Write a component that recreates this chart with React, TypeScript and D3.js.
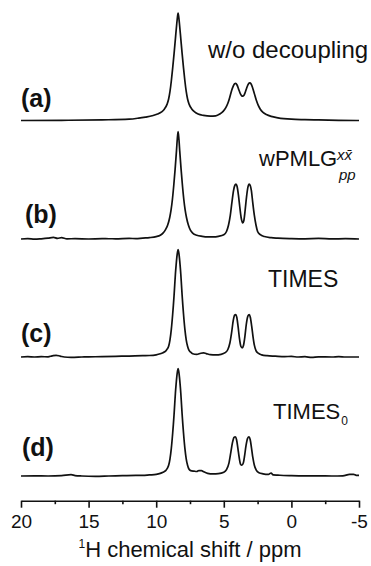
import * as d3 from 'd3';
import { useEffect, useRef } from 'react';

// spectra: [ppm, intensity], main peak = 100
const specA = [
  [20, 0], [17, 0.2], [14, 0.6], [12, 1.2], [11.3, 2.2], [10.8, 3.2], [10.3, 4.4], [9.9, 6], [9.6, 8],
  [9.4, 10.5], [9.2, 15], [9.08, 20], [8.98, 27], [8.88, 37], [8.78, 49], [8.68, 62], [8.58, 76],
  [8.48, 90], [8.43, 96], [8.38, 100], [8.33, 96], [8.28, 90], [8.18, 76], [8.08, 62], [7.98, 49],
  [7.88, 37], [7.78, 27], [7.68, 20], [7.56, 15], [7.36, 10.5], [7.16, 8], [6.9, 6], [6.5, 4.7],
  [6.0, 4.0], [5.6, 4.3], [5.3, 6], [5.05, 8.5], [4.85, 12], [4.7, 16], [4.55, 22], [4.42, 28],
  [4.3, 32], [4.2, 34.2], [4.12, 34.5], [4.02, 33], [3.9, 29], [3.78, 25], [3.68, 23], [3.6, 22.6],
  [3.52, 23.2], [3.42, 26], [3.3, 30.5], [3.18, 34], [3.08, 35], [2.98, 34], [2.86, 30], [2.74, 25],
  [2.6, 19], [2.45, 14], [2.3, 10.5], [2.1, 7.5], [1.85, 5.5], [1.5, 3.8], [1.0, 2.5], [0, 1.2],
  [-1, 0.8], [-2, 0.5], [-3.5, 0.2], [-5, 0],
];

const specB = [
  [20, 0], [19.5, 0.3], [19, -0.2], [18.5, 0.2], [18.0, 0.8], [17.6, 1.5], [17.3, 0.6], [17.0, 1.2],
  [16.6, 0.2], [16, 0.3], [15, 0], [14, 0.3], [13, 0.2], [12, 0.6], [11.5, 0.3], [11, 0.9],
  [10.5, 1.3], [10, 2.2], [9.7, 3.5], [9.5, 5.5], [9.3, 9], [9.15, 13], [9.0, 20], [8.9, 27],
  [8.8, 37], [8.7, 50], [8.6, 65], [8.5, 82], [8.44, 93], [8.38, 100], [8.32, 93], [8.26, 82],
  [8.16, 65], [8.06, 50], [7.96, 37], [7.86, 27], [7.76, 20], [7.62, 13], [7.46, 8], [7.3, 5.5],
  [7.0, 3.5], [6.6, 2.5], [6.2, 2], [5.8, 2], [5.4, 2.5], [5.0, 4], [4.8, 7], [4.65, 13], [4.52, 22],
  [4.4, 34], [4.28, 45], [4.18, 50], [4.1, 51], [4.02, 49], [3.92, 41], [3.82, 30], [3.72, 20],
  [3.6, 15], [3.52, 17], [3.42, 27], [3.32, 39], [3.22, 48], [3.12, 51], [3.05, 50], [2.96, 45],
  [2.86, 34], [2.74, 22], [2.62, 13], [2.5, 7], [2.3, 4], [2.0, 2.3], [1.5, 1.2], [1, 0.8], [0, 0.4],
  [-1, 0.2], [-2, 0.5], [-3, 0.1], [-4, 0.3], [-5, 0],
];

const specC = [
  [20, 0], [19.5, 0.3], [19, 0], [18.5, 0.3], [18, 0.2], [17.7, 1.0], [17.4, 1.6], [17.1, 0.8],
  [16.8, 0], [16.3, -0.3], [15.5, 0], [15, 0.2], [14, 0.3], [13, 0.6], [12, 0.9], [11, 1.3],
  [10.5, 1.4], [10, 2.0], [9.7, 3], [9.5, 4], [9.3, 5.5], [9.18, 7.5], [9.08, 10], [8.98, 16],
  [8.88, 26], [8.78, 40], [8.73, 48], [8.68, 57], [8.63, 67], [8.58, 77], [8.53, 85], [8.48, 92],
  [8.43, 97], [8.38, 100], [8.33, 97], [8.28, 92], [8.23, 85], [8.18, 77], [8.13, 67], [8.08, 57],
  [8.03, 48], [7.98, 40], [7.88, 26], [7.78, 16], [7.68, 10], [7.58, 6.5], [7.45, 4.5], [7.3, 3],
  [7.0, 2.4], [6.7, 3.5], [6.5, 3.8], [6.3, 3.2], [6.0, 2.2], [5.6, 2], [5.2, 2.5], [4.9, 4],
  [4.7, 7], [4.55, 13], [4.42, 23], [4.3, 34], [4.2, 39], [4.12, 39.5], [4.04, 37], [3.94, 28],
  [3.84, 17], [3.74, 10], [3.64, 8.5], [3.54, 11], [3.44, 19], [3.34, 30], [3.22, 38], [3.12, 39.5],
  [3.04, 37], [2.94, 29], [2.84, 19], [2.74, 11], [2.62, 6], [2.45, 3.5], [2.2, 2], [1.8, 1.2],
  [1.2, 0.8], [0.5, 0.4], [0, 0.5], [-0.5, 0], [-1, 0.3], [-1.5, -0.4], [-2, 0.2], [-3, 0],
  [-3.5, 0.4], [-4, 0], [-5, 0],
];

const specD = [
  [20, 0], [19, 0.2], [18, 0], [17, 0.3], [16.3, 1.2], [16.0, 0.4], [15.5, 0], [14.5, -0.3],
  [13.5, 0], [12.5, 0.3], [11.5, 0.6], [11, 0.5], [10.5, 1.0], [10, 1.5], [9.7, 2.4], [9.5, 3.5],
  [9.3, 5], [9.18, 7], [9.08, 10], [8.98, 16], [8.88, 26], [8.78, 40], [8.73, 48], [8.68, 57],
  [8.63, 67], [8.58, 77], [8.53, 85], [8.48, 92], [8.43, 97], [8.38, 100], [8.33, 97], [8.28, 92],
  [8.23, 85], [8.18, 77], [8.13, 67], [8.08, 57], [8.03, 48], [7.98, 40], [7.88, 26], [7.78, 16],
  [7.68, 10], [7.58, 6.5], [7.45, 5], [7.2, 4.5], [7.0, 4.2], [6.85, 5], [6.65, 5], [6.5, 4],
  [6.2, 2.5], [5.8, 2], [5.4, 2.2], [5.0, 3.5], [4.8, 6], [4.62, 12], [4.48, 22], [4.36, 31],
  [4.24, 36], [4.15, 36.5], [4.06, 34], [3.96, 26], [3.86, 17], [3.76, 11], [3.66, 10],
  [3.56, 12], [3.46, 19], [3.36, 28], [3.24, 35], [3.14, 36.5], [3.05, 34], [2.95, 26], [2.85, 17],
  [2.74, 10], [2.6, 5.5], [2.4, 3], [2.1, 2], [1.7, 1.5], [1.5, 2.8], [1.35, 1], [1.0, 0.8],
  [0, 0.3], [-1, 0.1], [-2, 0.2], [-3, 0], [-3.8, 0.2], [-4.3, 1.5], [-4.6, 1.6], [-4.8, 0.6],
  [-5, 0.6],
];

const spectra = [specA, specB, specC, specD];
const panelLabels = ['(a)', '(b)', '(c)', '(d)'];
const majorTicks = [20, 15, 10, 5, 0, -5];
const minorTicks = [17.5, 12.5, 7.5, 2.5, -2.5];

const font = "'Liberation Sans', Arial, Helvetica, sans-serif";
const baselines = [120.5, 239, 357, 476];
const peakHeight = 107.5;
const labelX = [21, 25, 21, 22];
const labelLift = [13.5, 16, 15, 20];

export default function App() {
  const svgRef = useRef(null);

  useEffect(() => {
    const svg = d3.select(svgRef.current);
    svg.selectAll('*').remove();

    const x = d3.scaleLinear().domain([20, -5]).range([21, 359]);

    // spectra
    spectra.forEach((spec, i) => {
      const y = d3
        .scaleLinear()
        .domain([0, 100])
        .range([baselines[i], baselines[i] - peakHeight]);

      const line = d3
        .line()
        .x((d) => x(d[0]))
        .y((d) => y(d[1]))
        .curve(d3.curveMonotoneX);

      svg
        .append('path')
        .datum(spec)
        .attr('d', line as any)
        .style('fill', 'none')
        .style('stroke', '#111')
        .style('stroke-width', 1.7)
        .style('stroke-linejoin', 'round');

      svg
        .append('text')
        .attr('x', labelX[i])
        .attr('y', baselines[i] - labelLift[i])
        .style('font-family', font)
        .style('font-weight', 'bold')
        .style('font-size', '25px')
        .style('fill', '#111')
        .text(panelLabels[i]);
    });

    // method labels
    svg
      .append('text')
      .attr('x', 208)
      .attr('y', 58)
      .style('font-family', font)
      .style('font-size', '24px')
      .style('fill', '#111')
      .text('w/o decoupling');

    const wp = svg
      .append('g')
      .style('font-family', font)
      .style('fill', '#111');
    wp.append('text')
      .attr('x', 259)
      .attr('y', 166)
      .style('font-size', '22px')
      .text('wPMLG');
    const sup = wp
      .append('text')
      .attr('x', 337)
      .attr('y', 160)
      .style('font-size', '15px')
      .style('font-style', 'italic');
    sup.append('tspan').text('x');
    sup.append('tspan').text('x\u0304');
    wp.append('text')
      .attr('x', 339)
      .attr('y', 180)
      .style('font-size', '15px')
      .style('font-style', 'italic')
      .text('pp');

    svg
      .append('text')
      .attr('x', 268)
      .attr('y', 287)
      .style('font-family', font)
      .style('font-size', '23px')
      .style('fill', '#111')
      .text('TIMES');

    const t0 = svg
      .append('text')
      .attr('x', 273)
      .attr('y', 419)
      .style('font-family', font)
      .style('font-size', '22px')
      .style('fill', '#111');
    t0.append('tspan').text('TIMES');
    t0.append('tspan')
      .attr('dy', 6)
      .attr('dx', 1)
      .style('font-size', '12px')
      .text('0');

    // x axis
    const axisY = 500.7;
    const gMajor = svg
      .append('g')
      .attr('transform', 'translate(0,' + axisY + ')')
      .call(
        d3
          .axisBottom(x)
          .tickValues(majorTicks)
          .tickSize(7)
          .tickSizeOuter(0)
          .tickPadding(7)
          .tickFormat((d) => String(d))
      );
    gMajor.select('.domain').style('stroke-width', 1.6).style('stroke', '#111');
    gMajor.selectAll('line').style('stroke-width', 1.6).style('stroke', '#111');
    gMajor
      .selectAll('text')
      .style('font-family', font)
      .style('font-size', '19px')
      .style('fill', '#111');

    const gMinor = svg
      .append('g')
      .attr('transform', 'translate(0,' + axisY + ')')
      .call(
        d3
          .axisBottom(x)
          .tickValues(minorTicks)
          .tickSize(3.5)
          .tickSizeOuter(0)
          .tickFormat(() => '')
      );
    gMinor.select('.domain').remove();
    gMinor.selectAll('line').style('stroke-width', 1.6).style('stroke', '#111');

    // x label
    const xl = svg
      .append('text')
      .attr('x', 190)
      .attr('y', 557)
      .attr('text-anchor', 'middle')
      .style('font-family', font)
      .style('font-size', '22px')
      .style('fill', '#111');
    xl.append('tspan').attr('dy', -9).style('font-size', '12px').text('1');
    xl.append('tspan').attr('dy', 9).text('H chemical shift / ppm');
  }, []);

  return (
    <div>
      <svg
        ref={svgRef}
        width={371}
        height={566}
        style={{ position: 'absolute', left: 0, top: 0, background: '#fff' }}
      ></svg>
    </div>
  );
}
